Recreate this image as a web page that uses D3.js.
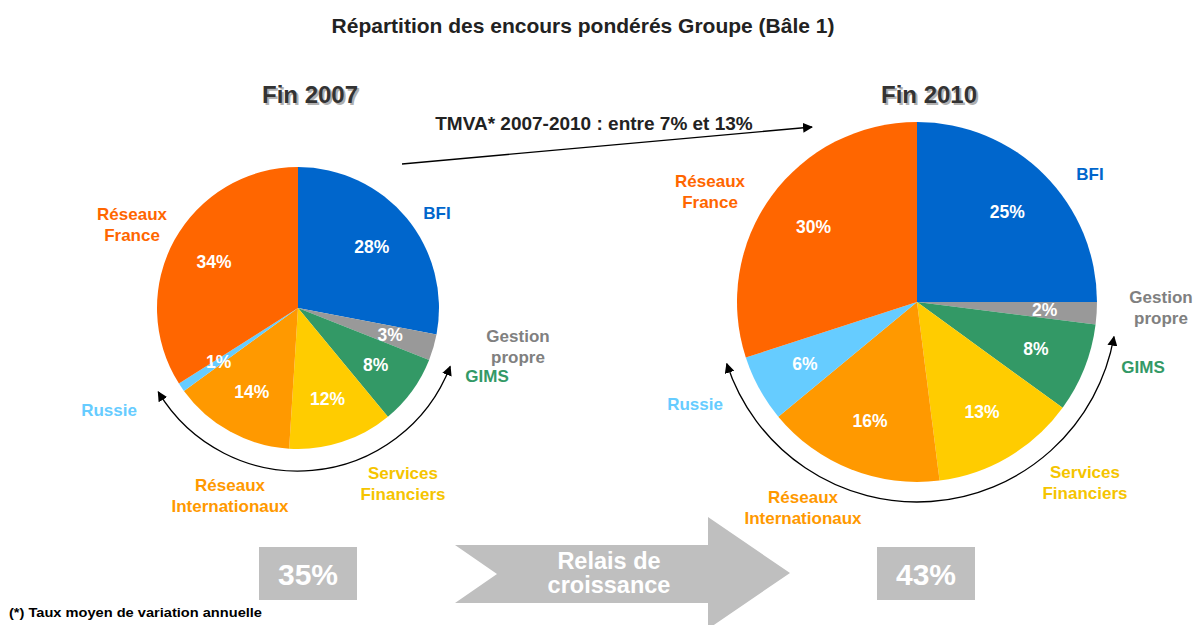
<!DOCTYPE html>
<html>
<head>
<meta charset="utf-8">
<script src="https://cdn.jsdelivr.net/npm/d3@7"></script>
<style>
  body { margin: 0; background: #fff; }
  svg { display: block; font-family: "Liberation Sans", Arial, sans-serif; font-weight: bold; }
</style>
</head>
<body>
<svg id="chart" width="1194" height="625"></svg>
<script>
// Data
const categories = ["BFI", "Gestion propre", "GIMS", "Services Financiers", "Réseaux Internationaux", "Russie", "Réseaux France"];
const values2007 = [28, 3, 8, 12, 14, 1, 34];
const values2010 = [25, 2, 8, 13, 16, 6, 30];
const years = ["Fin 2007", "Fin 2010"];
const shares = ["35%", "43%"];
const growthNote = "TMVA* 2007-2010 : entre 7% et 13%";
const relayLabel = ["Relais de", "croissance"];

const sliceColor = d3.scaleOrdinal()
    .domain(categories)
    .range(["#0066CC", "#999999", "#339966", "#FFCC00", "#FF9900", "#66CCFF", "#FF6600"]);
const labelColor = d3.scaleOrdinal()
    .domain(categories)
    .range(["#0066CC", "#808080", "#339966", "#F5C400", "#FF9900", "#66CCFF", "#FF6600"]);

// Layout of each pie (centre, radius, label offsets relative to centre)
const pies = [
    {
        values: values2007, cx: 298, cy: 308, r: 141, labelK: 0.68,
        arc: {r: 163, from: 111, to: 239},
        box: {x: 259, y: 547},
        labels: {
            "BFI": [139, -95], "Gestion propre": [220, 28], "GIMS": [189, 68],
            "Services Financiers": [105, 165], "Réseaux Internationaux": [-68, 177],
            "Russie": [-189, 102], "Réseaux France": [-166, -94]
        }
    },
    {
        values: values2010, cx: 917, cy: 302, r: 180, labelK: 0.71,
        arc: {r: 200, from: 100, to: 252},
        box: {x: 877, y: 547},
        labels: {
            "BFI": [173, -128], "Gestion propre": [244, -5], "GIMS": [226, 65],
            "Services Financiers": [168, 170], "Réseaux Internationaux": [-114, 195],
            "Russie": [-222, 102], "Réseaux France": [-207, -121]
        }
    }
];

const svg = d3.select("#chart");

const defs = svg.append("defs");
defs.append("marker")
    .attr("id", "head")
    .attr("viewBox", "0 0 10 10")
    .attr("refX", 9).attr("refY", 5)
    .attr("markerWidth", 10).attr("markerHeight", 10)
    .attr("markerUnits", "userSpaceOnUse")
    .attr("orient", "auto-start-reverse")
    .append("path")
    .attr("d", "M0,0 L10,5 L0,10 Z")
    .attr("fill", "#000");

// Title
svg.append("text")
    .attr("x", 583).attr("y", 33)
    .attr("text-anchor", "middle")
    .attr("font-size", 21)
    .attr("fill", "#222")
    .text("Répartition des encours pondérés Groupe (Bâle 1)");

const pie = d3.pie().sort(null).value(d => d.value);

pies.forEach((p, i) => {
    const data = categories.map((c, j) => ({cat: c, value: p.values[j]}));
    const arcs = pie(data);
    const arcGen = d3.arc().innerRadius(0).outerRadius(p.r);
    const labelArc = d3.arc().innerRadius(p.r * p.labelK).outerRadius(p.r * p.labelK);

    const g = svg.append("g").attr("transform", `translate(${p.cx},${p.cy})`);

    g.selectAll("path.slice")
        .data(arcs)
        .join("path")
        .attr("class", "slice")
        .attr("d", arcGen)
        .attr("fill", d => sliceColor(d.data.cat));

    g.selectAll("text.pct")
        .data(arcs)
        .join("text")
        .attr("class", "pct")
        .attr("transform", d => `translate(${labelArc.centroid(d)})`)
        .attr("text-anchor", "middle")
        .attr("dy", "0.36em")
        .attr("font-size", 17.5)
        .attr("fill", "#fff")
        .text(d => d.data.value + "%");

    // category labels
    const lab = g.selectAll("text.cat")
        .data(categories)
        .join("text")
        .attr("class", "cat")
        .attr("text-anchor", "middle")
        .attr("font-size", 17)
        .attr("fill", d => labelColor(d))
        .attr("transform", d => `translate(${p.labels[d]})`);
    lab.each(function(d) {
        const words = d.split(" ");
        d3.select(this).selectAll("tspan")
            .data(words)
            .join("tspan")
            .attr("x", 0)
            .attr("dy", (w, k) => k === 0 ? "0.36em" : 20.5)
            .text(w => w);
    });

    // curved double arrow around the bottom
    const toRad = a => (a - 90) * Math.PI / 180;
    const path = d3.path();
    path.arc(0, 0, p.arc.r, toRad(p.arc.from), toRad(p.arc.to), false);
    g.append("path")
        .attr("d", path.toString())
        .attr("fill", "none")
        .attr("stroke", "#000")
        .attr("stroke-width", 1.3)
        .attr("marker-start", "url(#head)")
        .attr("marker-end", "url(#head)");

    // year heading with shadow
    const yr = svg.append("g").attr("transform", `translate(${p.cx + 12},103)`);
    yr.append("text").attr("x", 2).attr("y", 2)
        .attr("text-anchor", "middle").attr("font-size", 24).attr("fill", "#b0b0b0")
        .text(years[i]);
    yr.append("text")
        .attr("text-anchor", "middle").attr("font-size", 24).attr("fill", "#333")
        .text(years[i]);

    // share box
    svg.append("rect")
        .attr("x", p.box.x).attr("y", p.box.y)
        .attr("width", 98).attr("height", 53)
        .attr("fill", "#BFBFBF");
    svg.append("text")
        .attr("x", p.box.x + 49).attr("y", p.box.y + 27)
        .attr("dy", "0.36em")
        .attr("text-anchor", "middle")
        .attr("font-size", 30)
        .attr("fill", "#fff")
        .text(shares[i]);
});

// growth arrow between the pies
svg.append("line")
    .attr("x1", 402).attr("y1", 164)
    .attr("x2", 812).attr("y2", 127)
    .attr("stroke", "#000")
    .attr("stroke-width", 1.3)
    .attr("marker-end", "url(#head)");
svg.append("text")
    .attr("x", 594).attr("y", 130)
    .attr("text-anchor", "middle")
    .attr("font-size", 19)
    .attr("fill", "#222")
    .text(growthNote);

// big chevron arrow
const chevron = [[455, 545], [708, 545], [708, 517], [790, 573], [708, 629], [708, 603], [455, 603], [497, 574]];
svg.append("path")
    .attr("d", d3.line()(chevron) + "Z")
    .attr("fill", "#BFBFBF");
svg.selectAll("text.relay")
    .data(relayLabel)
    .join("text")
    .attr("class", "relay")
    .attr("x", 609)
    .attr("y", (d, k) => 569 + k * 24)
    .attr("text-anchor", "middle")
    .attr("font-size", 23.5)
    .attr("fill", "#fff")
    .text(d => d);

// footnote
svg.append("text")
    .attr("x", 9).attr("y", 617)
    .attr("font-size", 13.5)
    .attr("textLength", 253)
    .attr("lengthAdjust", "spacingAndGlyphs")
    .attr("fill", "#000")
    .text("(*)  Taux moyen de variation annuelle");
</script>
</body>
</html>
